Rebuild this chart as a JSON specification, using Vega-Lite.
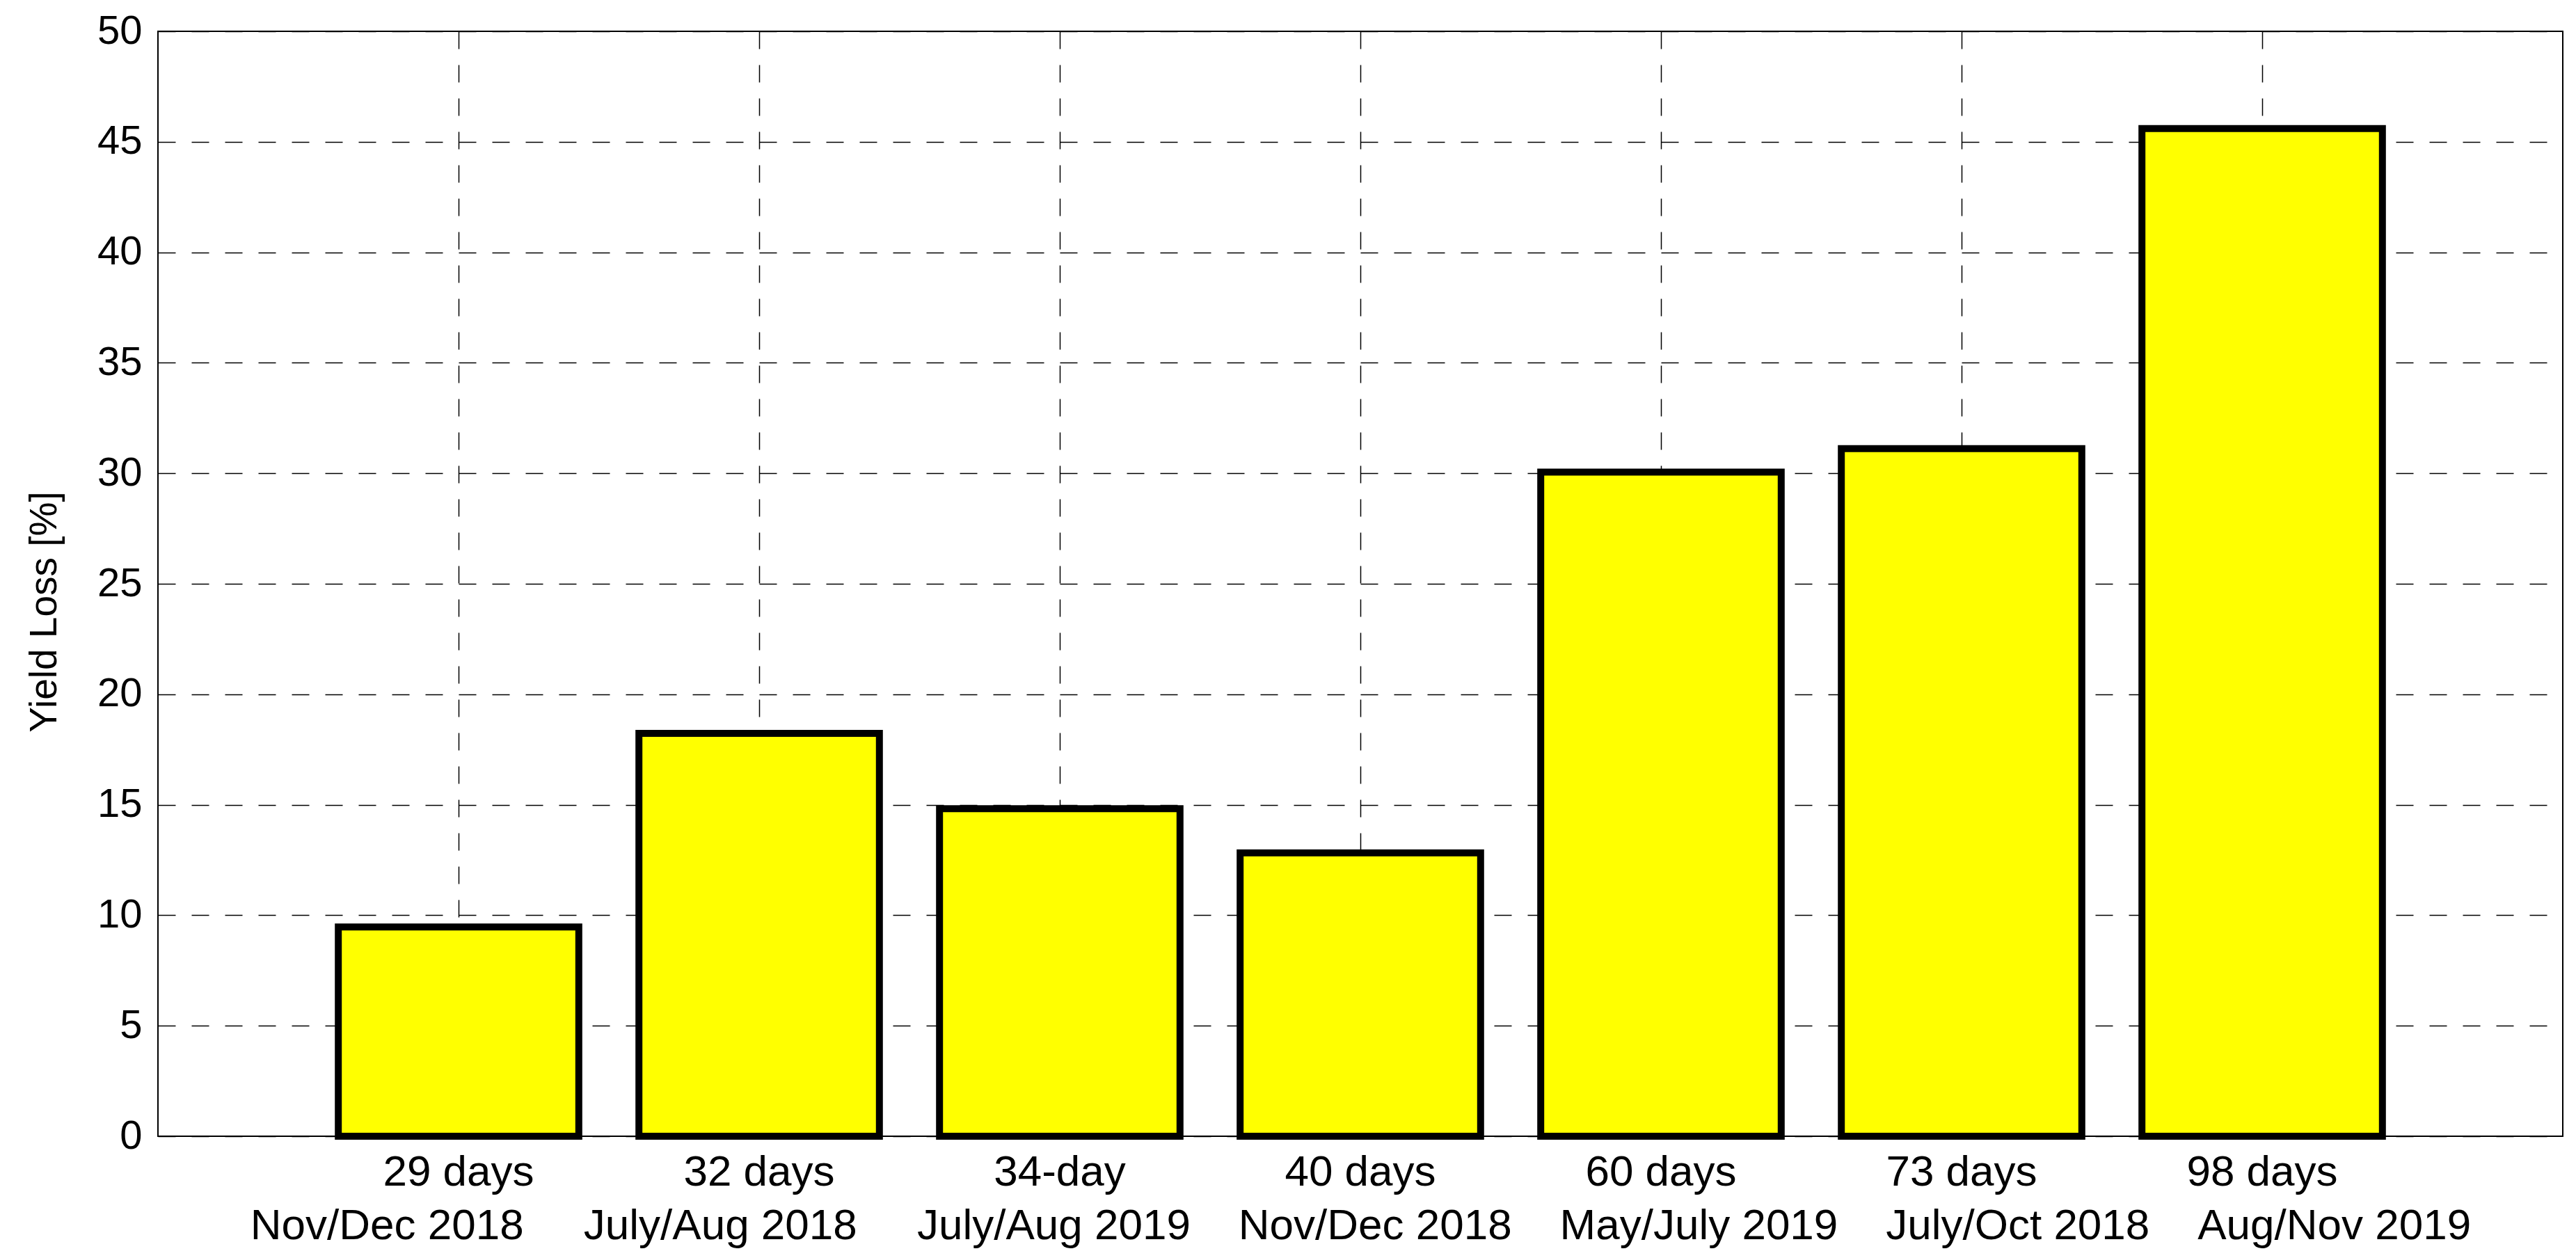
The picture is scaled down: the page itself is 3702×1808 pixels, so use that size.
{
  "$schema": "https://vega.github.io/schema/vega-lite/v6.json",
  "width": 3456,
  "height": 1588,
  "autosize": "none",
  "padding": {"left": 227, "top": 45, "right": 19, "bottom": 175},
  "background": "white",
  "config": {
    "font": "Liberation Sans",
    "view": {"stroke": "black", "strokeWidth": 2}
  },
  "data": {
    "values": [
      {"duration": "29 days", "period": "Nov/Dec 2018", "loss": 9.47},
      {"duration": "32 days", "period": "July/Aug 2018", "loss": 18.23},
      {"duration": "34-day", "period": "July/Aug 2019", "loss": 14.82},
      {"duration": "40 days", "period": "Nov/Dec 2018", "loss": 12.82},
      {"duration": "60 days", "period": "May/July 2019", "loss": 30.05},
      {"duration": "73 days", "period": "July/Oct 2018", "loss": 31.12},
      {"duration": "98 days", "period": "Aug/Nov 2019", "loss": 45.6}
    ]
  },
  "mark": {"type": "bar", "fill": "#ffff00", "stroke": "black", "strokeWidth": 10},
  "encoding": {
    "x": {
      "field": "duration",
      "type": "nominal",
      "sort": null,
      "scale": {"paddingInner": 0.2, "paddingOuter": 0.6},
      "axis": {
        "title": "Nov/Dec 2018\u00a0\u00a0\u00a0\u00a0\u00a0July/Aug 2018\u00a0\u00a0\u00a0\u00a0\u00a0July/Aug 2019\u00a0\u00a0\u00a0\u00a0Nov/Dec 2018\u00a0\u00a0\u00a0\u00a0May/July 2019\u00a0\u00a0\u00a0\u00a0July/Oct 2018\u00a0\u00a0\u00a0\u00a0Aug/Nov 2019",
        "bandPosition": 0.5,
        "labelAngle": 0,
        "labelFont": "Liberation Sans",
        "labelFontSize": 62,
        "labelColor": "black",
        "labelBaseline": "alphabetic",
        "labelPadding": 70,
        "labelLimit": 0,
        "labelOverlap": false,
        "ticks": false,
        "tickSize": 0,
        "domain": false,
        "grid": true,
        "gridColor": "black",
        "gridOpacity": 1,
        "gridWidth": 1.5,
        "gridDash": [25, 23],
        "titleFont": "Liberation Sans",
        "titleFontSize": 62,
        "titleFontWeight": "normal",
        "titleColor": "black",
        "titleBaseline": "alphabetic",
        "titleY": 147,
        "titleLimit": 0
      }
    },
    "y": {
      "field": "loss",
      "type": "quantitative",
      "scale": {"domain": [0, 50], "nice": false},
      "axis": {
        "title": "Yield Loss [%]",
        "values": [0, 5, 10, 15, 20, 25, 30, 35, 40, 45, 50],
        "labelFont": "Liberation Sans",
        "labelFontSize": 58,
        "labelColor": "black",
        "labelPadding": 23,
        "labelOverlap": false,
        "labelLimit": 0,
        "ticks": false,
        "tickSize": 0,
        "domain": false,
        "grid": true,
        "gridColor": "black",
        "gridOpacity": 1,
        "gridWidth": 1.5,
        "gridDash": [25, 23],
        "titleFont": "Liberation Sans",
        "titleFontSize": 55,
        "titleFontWeight": "normal",
        "titleColor": "black",
        "titleBaseline": "alphabetic",
        "titleAngle": 270,
        "titleX": -147,
        "titleY": 834,
        "titleLimit": 0
      }
    }
  }
}
